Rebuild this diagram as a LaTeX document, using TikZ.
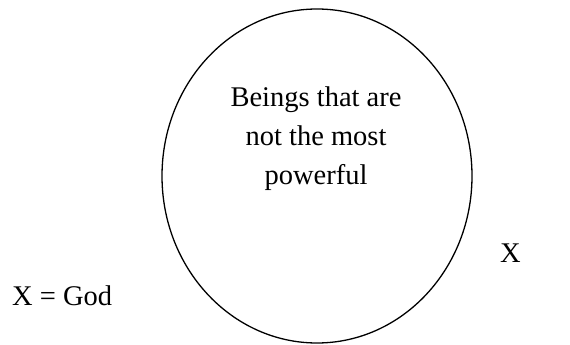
\documentclass[tikz,border=0pt]{standalone}
\usepackage{fontspec}
\setmainfont{Liberation Serif}
\usetikzlibrary{shapes.geometric}
\tikzset{
  lbl/.style={inner sep=0pt, font=\fontsize{28.5}{39}\selectfont},
  set/.style={draw, ellipse, line width=1.3pt, inner sep=0pt, minimum width=310pt, minimum height=334pt}
}
\begin{document}
\begin{tikzpicture}[x=1pt,y=1pt]
\useasboundingbox (0,0) rectangle (570,-345);
\node[set] (s) at (317,-176) {};
\node[lbl, align=center, anchor=north] (t) at (316,-86.5) {Beings that are\\not the most\\powerful};
\node[lbl, anchor=base west] (x) at (500,-262) {X};
\node[lbl, anchor=base west] (g) at (12,-305) {X = God};
\end{tikzpicture}
\end{document}
